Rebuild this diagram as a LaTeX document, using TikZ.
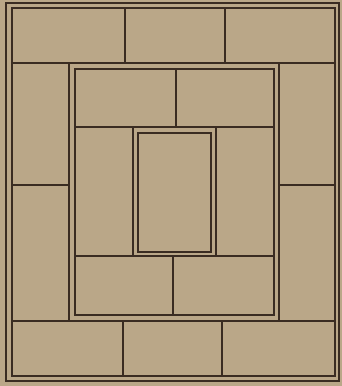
\documentclass[tikz,border=0pt]{standalone}
\definecolor{paper}{RGB}{186,167,136}
\definecolor{ink}{RGB}{58,44,34}
\begin{document}
\begin{tikzpicture}[x=1pt,y=-1pt,line width=1.3pt,
  frame/.style={draw=ink},
  joint/.style={draw=ink,line width=1.1pt}]
\fill[paper] (0,0) rectangle (342,386);
\useasboundingbox (0,0) rectangle (342,386);
% outer double frame
\draw[frame] (6,3) rectangle (339,381);
\draw[frame] (12,8) rectangle (335,376);
% outer ring joints
\draw[joint] (12,63) -- (335,63);
\draw[joint] (12,321) -- (335,321);
\draw[joint] (125,8) -- (125,63);
\draw[joint] (225,8) -- (225,63);
\draw[joint] (123,321) -- (123,376);
\draw[joint] (222,321) -- (222,376);
\draw[joint] (12,185) -- (69,185);
\draw[joint] (279,185) -- (335,185);
% middle double frame
\draw[frame] (69,63) rectangle (279,321);
\draw[frame] (75,69) rectangle (274,315);
% middle ring joints
\draw[joint] (75,127) -- (274,127);
\draw[joint] (75,256) -- (274,256);
\draw[joint] (176,69) -- (176,127);
\draw[joint] (173,256) -- (173,315);
% centre double frame
\draw[frame] (133,127) rectangle (216,256);
\draw[frame] (138,133) rectangle (211,252);
\end{tikzpicture}
\end{document}
